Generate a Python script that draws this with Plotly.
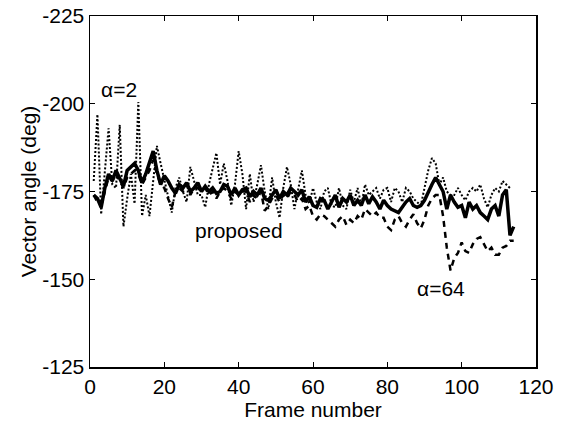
import plotly.graph_objects as go

frames = list(range(1, 115))

proposed = [-174, -173, -170.5, -176, -180, -178, -181, -179, -176.5, -181,
            -182, -183, -181, -177.5, -180, -183, -186.5, -181, -177, -179.5,
            -178, -176, -174.5, -177, -176, -177.5, -175, -176, -177.5, -175,
            -176.5, -175, -176, -174.5, -175, -177, -176.5, -174, -176, -174,
            -175.5, -176, -173.5, -175, -174, -176, -173, -172.5, -174, -175.5,
            -173, -175, -174, -176, -175, -174, -175.5, -172, -173.5, -171,
            -170.5, -173, -172.5, -170, -172, -174, -170.5, -173, -172, -174,
            -171, -172.5, -171, -174, -171.5, -173.5, -172, -170, -172.5, -171,
            -170, -169.5, -169, -170.5, -172, -173, -171, -170.5, -171, -172.5,
            -175, -177, -179, -177, -175, -170, -174, -172, -170.5, -171,
            -167.5, -172, -170, -171, -169, -168, -167, -170, -171, -168,
            -174, -175.5, -162.5, -165]

alpha64 = [-174, -172, -171, -175, -179, -178, -180, -178, -176, -179,
           -180, -181, -180, -177, -179, -181, -184, -180, -177, -176,
           -173, -170.5, -175, -176, -175, -177, -174, -176, -176, -175,
           -176, -174, -175, -173, -175, -176, -175, -173, -175, -174,
           -175, -175, -172, -174, -173, -175, -169.5, -171, -173, -174,
           -172, -174, -173, -175, -174, -172, -173, -170, -171, -168,
           -167, -168.5, -168, -167, -166, -165, -167, -168, -165.5, -167,
           -166, -168, -167, -170, -169, -168, -169, -167.5, -167.5, -165,
           -164, -167, -168, -166, -165, -167, -168.5, -166, -164.5, -167,
           -171, -173, -174, -174, -168, -159, -152.5, -156, -157.5, -160.5,
           -158, -157.5, -160, -161.5, -162, -160, -158, -159, -157, -157,
           -159, -159.5, -161, -161]

alpha2 = [-178, -197, -168.5, -180, -193, -177, -176, -194, -165, -173,
          -180, -171.5, -200.5, -168, -174, -168, -178, -188, -183, -178,
          -173, -169, -176, -179, -175, -172, -182, -178, -174, -174,
          -170.5, -177, -182, -186, -177, -183, -178, -171, -177, -186.5,
          -180, -170, -180, -172, -177, -182.5, -175, -170, -179, -172,
          -167.5, -176, -182, -177, -170, -176, -181, -174, -171.5, -176,
          -172, -170, -175, -176, -171, -170.5, -176, -171, -170, -175.5,
          -172, -176, -171, -177, -174, -175, -176, -173, -175.5, -176,
          -172, -176, -175, -172, -176, -175, -173, -172, -171, -176,
          -181, -184.5, -183, -177, -179, -175, -174, -174, -176, -174,
          -172.5, -175, -176, -175, -177, -173, -170.5, -174, -176, -175,
          -178, -177, -176]
frames_a2 = list(range(1, len(alpha2) + 1))

x_ticks = [0, 20, 40, 60, 80, 100, 120]
y_ticks = [-225, -200, -175, -150, -125]

FONT = "Liberation Sans, Arial, sans-serif"

fig = go.Figure()
fig.add_trace(go.Scatter(x=frames_a2, y=alpha2, mode="lines",
                         line=dict(color="black", width=2, dash="2px,2px"), name="α=2"))
fig.add_trace(go.Scatter(x=frames, y=alpha64, mode="lines",
                         line=dict(color="black", width=2.5, dash="6px,5px"), name="α=64"))
fig.add_trace(go.Scatter(x=frames, y=proposed, mode="lines",
                         line=dict(color="black", width=3.5), name="proposed"))

fig.add_annotation(x=7.8, y=-204, text="α=2", showarrow=False,
                   font=dict(family=FONT, size=21, color="black"))
fig.add_annotation(x=40.2, y=-164, text="proposed", showarrow=False,
                   font=dict(family=FONT, size=21, color="black"))
fig.add_annotation(x=94.4, y=-147.5, text="α=64", showarrow=False,
                   font=dict(family=FONT, size=21, color="black"))

fig.update_layout(
    width=561, height=423,
    margin=dict(l=90, r=25, t=16, b=56),
    paper_bgcolor="white", plot_bgcolor="white",
    showlegend=False,
    font=dict(family=FONT, size=21, color="black"),
)
fig.update_xaxes(
    range=[0, 120], tickvals=x_ticks, ticktext=[str(v) for v in x_ticks],
    ticks="inside", ticklen=5, tickcolor="black", tickwidth=1,
    showline=True, linecolor="black", linewidth=1.5, mirror="ticks",
    showgrid=False, zeroline=False, automargin=False, ticklabeloverflow="allow",
    title=dict(text="Frame number", font=dict(size=21), standoff=0),
    tickfont=dict(size=21),
)
fig.update_yaxes(
    range=[-125, -225], tickvals=y_ticks, ticktext=[str(v) for v in y_ticks],
    ticks="inside", ticklen=5, tickcolor="black", tickwidth=1,
    showline=True, linecolor="black", linewidth=1.5, mirror="ticks",
    showgrid=False, zeroline=False, automargin=False, ticklabeloverflow="allow",
    title=dict(text="Vector angle (deg)", font=dict(size=21), standoff=0),
    tickfont=dict(size=21),
)

# Remove the browser's default 8px body margin so the figure fills the window.
fig.write_html("out.html",
               config={"displayModeBar": False, "staticPlot": True},
               post_script="document.body.style.margin='0';document.body.style.overflow='hidden';")
